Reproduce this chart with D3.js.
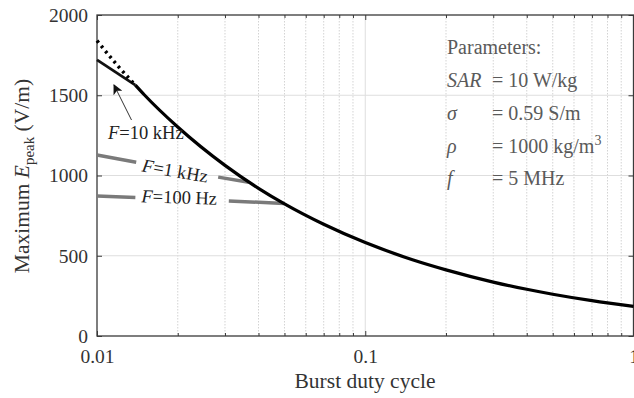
<!DOCTYPE html>
<html>
<head>
<meta charset="utf-8">
<script src="https://cdn.jsdelivr.net/npm/d3@7"></script>
<style>
  html, body { margin: 0; padding: 0; background: #fff; }
  svg { display: block; font-family: "Liberation Serif", "Times New Roman", serif; }
</style>
</head>
<body>
<svg id="chart" width="634" height="398"></svg>
<script>
// Maximum peak field vs. burst duty cycle (SAR-limited), with low-frequency limits
const dutyCycle   = [0.0139, 0.015, 0.02, 0.03, 0.04, 0.05, 0.07, 0.1, 0.15, 0.2, 0.3, 0.4, 0.5, 0.7, 1.0];
const ePeak       = [1563, 1503, 1302, 1063, 920, 823, 696, 582, 475, 412, 336, 291, 260, 220, 185];
const dottedDuty  = [0.01, 0.012, 0.0139];
const dottedE     = [1840, 1680, 1563];
const f10kDuty    = [0.01, 0.0139];
const f10kE       = [1720, 1563];
const f1kDuty     = [[0.01, 0.014], [0.0283, 0.0368]];
const f1kE        = [[1128, 1083], [990, 958]];
const f100Duty    = [[0.01, 0.0139], [0.031, 0.0498]];
const f100E       = [[872, 863], [841, 826]];
const xTicks      = [0.01, 0.1, 1];
const xTickLabels = ["0.01", "0.1", "1"];
const yTicks      = [0, 500, 1000, 1500, 2000];

const svg = d3.select("#chart");
const L = 97, R = 633.5, T = 15, B = 336;
const x = d3.scaleLog().domain([0.01, 1]).range([L, R]);
const y = d3.scaleLinear().domain([0, 2000]).range([B, T]);

const minorTicks = x.ticks().filter(t => xTicks.indexOf(t) < 0 && t > 0.01 && t < 1);

// grid
const grid = svg.append("g");
grid.selectAll("line.vmin").data(minorTicks).join("line")
  .attr("x1", d => x(d)).attr("x2", d => x(d)).attr("y1", T).attr("y2", B)
  .attr("stroke", "#c8c8c8").attr("stroke-width", 0.8).attr("stroke-dasharray", "1.5,1.5");
grid.selectAll("line.vmaj").data([0.1]).join("line")
  .attr("x1", d => x(d)).attr("x2", d => x(d)).attr("y1", T).attr("y2", B)
  .attr("stroke", "#dedede").attr("stroke-width", 1);
grid.selectAll("line.h").data([500, 1000, 1500]).join("line")
  .attr("x1", L).attr("x2", R).attr("y1", d => y(d)).attr("y2", d => y(d))
  .attr("stroke", "#dedede").attr("stroke-width", 1.2);

// axes (ticks pointing inward, mirrored on top and right)
const axisColor = "#3a3a3a";
function styleAxis(g) {
  g.select(".domain").remove();
  g.selectAll(".tick line").attr("stroke", axisColor).attr("stroke-width", 1);
}
svg.append("g").attr("transform", `translate(0,${B})`)
  .call(d3.axisBottom(x).tickValues(minorTicks).tickSize(-3).tickFormat(""))
  .call(styleAxis);
svg.append("g").attr("transform", `translate(0,${B})`)
  .call(d3.axisBottom(x).tickValues(xTicks).tickSize(-5).tickPadding(13)
        .tickFormat((d, i) => xTickLabels[i]))
  .call(styleAxis)
  .call(g => g.selectAll("text").attr("font-size", 19.5).attr("fill", "#333")
        .attr("font-family", "Liberation Serif"));
svg.append("g").attr("transform", `translate(0,${T})`)
  .call(d3.axisTop(x).tickValues(minorTicks).tickSize(-3).tickFormat(""))
  .call(styleAxis);
svg.append("g").attr("transform", `translate(0,${T})`)
  .call(d3.axisTop(x).tickValues(xTicks).tickSize(-5).tickFormat(""))
  .call(styleAxis);
svg.append("g").attr("transform", `translate(${L},0)`)
  .call(d3.axisLeft(y).tickValues(yTicks).tickSize(-5).tickPadding(9).tickFormat(d3.format("d")))
  .call(styleAxis)
  .call(g => g.selectAll("text").attr("font-size", 19.5).attr("fill", "#333")
        .attr("font-family", "Liberation Serif"));
svg.append("g").attr("transform", `translate(${R},0)`)
  .call(d3.axisRight(y).tickValues(yTicks).tickSize(-5).tickFormat(""))
  .call(styleAxis);

svg.append("rect").attr("x", L).attr("y", T).attr("width", R - L).attr("height", B - T)
  .attr("fill", "none").attr("stroke", axisColor).attr("stroke-width", 1.3);

// curves
const line = d3.line().x(d => x(d[0])).y(d => y(d[1]));
const smooth = d3.line().x(d => x(d[0])).y(d => y(d[1])).curve(d3.curveMonotoneX);
const zip = (a, b) => a.map((v, i) => [v, b[i]]);

f100Duty.forEach((seg, i) => {
  svg.append("path").attr("d", line(zip(seg, f100E[i])))
    .attr("fill", "none").attr("stroke", "#7a7a7a").attr("stroke-width", 3.5);
});
f1kDuty.forEach((seg, i) => {
  svg.append("path").attr("d", line(zip(seg, f1kE[i])))
    .attr("fill", "none").attr("stroke", "#7a7a7a").attr("stroke-width", 3.5);
});
svg.append("path").attr("d", line(zip(f10kDuty, f10kE)))
  .attr("fill", "none").attr("stroke", "#111").attr("stroke-width", 2.8);
svg.append("path").attr("d", smooth(zip(dottedDuty, dottedE)))
  .attr("fill", "none").attr("stroke", "#000").attr("stroke-width", 3.5)
  .attr("stroke-dasharray", "2.6,4");
svg.append("path").attr("d", smooth(zip(dutyCycle, ePeak)))
  .attr("fill", "none").attr("stroke", "#000").attr("stroke-width", 3.2);

// curve labels
const lab = svg.append("g").attr("font-size", 18.5).attr("fill", "#222");
function fLabel(g, rest) {
  g.append("tspan").attr("font-style", "italic").text("F");
  g.append("tspan").text(rest);
}
lab.append("text").attr("x", 108).attr("y", 139).call(g => fLabel(g, "=10 kHz"));
lab.append("text").attr("transform", "translate(174,177) rotate(10)")
  .attr("text-anchor", "middle").call(g => fLabel(g, "=1 kHz"));
lab.append("text").attr("transform", "translate(179,203.5) rotate(2)")
  .attr("text-anchor", "middle").call(g => fLabel(g, "=100 Hz"));

// arrow to the 10 kHz curve
svg.append("defs").append("marker").attr("id", "head")
  .attr("viewBox", "0 0 10 10").attr("refX", 9).attr("refY", 5)
  .attr("markerWidth", 10).attr("markerHeight", 10).attr("markerUnits", "userSpaceOnUse")
  .attr("orient", "auto")
  .append("path").attr("d", "M0,0 L10,5 L0,10 L2.5,5 Z").attr("fill", "#111");
svg.append("line").attr("x1", 131.5).attr("y1", 120).attr("x2", 114).attr("y2", 85)
  .attr("stroke", "#333").attr("stroke-width", 1).attr("marker-end", "url(#head)");

// parameter box
const pg = svg.append("g").attr("font-size", 20).attr("fill", "#5a5a5a");
pg.append("text").attr("x", 447).attr("y", 54).text("Parameters:");
const params = [
  { sym: "SAR", val: "= 10 W/kg", y: 87 },
  { sym: "σ",   val: "= 0.59 S/m", y: 120 },
  { sym: "ρ",   val: "= 1000 kg/m", sup: "3", y: 153 },
  { sym: "f",   val: "= 5 MHz", y: 185 }
];
params.forEach(p => {
  pg.append("text").attr("x", 447).attr("y", p.y).attr("font-style", "italic").text(p.sym);
  const t = pg.append("text").attr("x", 492).attr("y", p.y).text(p.val);
  if (p.sup) t.append("tspan").attr("dy", -8).attr("font-size", 14).text(p.sup);
});

// axis titles
svg.append("text").attr("x", 365).attr("y", 388).attr("text-anchor", "middle")
  .attr("font-size", 21.5).attr("fill", "#333").text("Burst duty cycle");
const yl = svg.append("text").attr("transform", "translate(29,176) rotate(-90)")
  .attr("text-anchor", "middle").attr("font-size", 21.5).attr("fill", "#333");
yl.append("tspan").text("Maximum ");
yl.append("tspan").attr("font-style", "italic").text("E");
yl.append("tspan").attr("font-size", 15).attr("dy", 5).text("peak");
yl.append("tspan").attr("dy", -5).text(" (V/m)");
</script>
</body>
</html>
